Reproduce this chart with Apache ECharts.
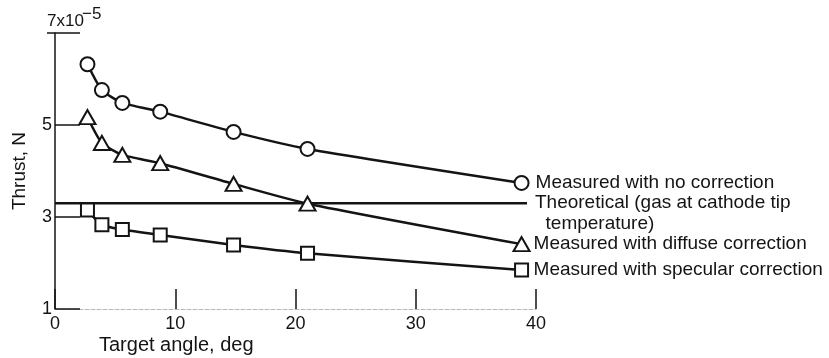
<!DOCTYPE html>
<html>
<head>
<meta charset="utf-8">
<script src="https://cdn.jsdelivr.net/npm/echarts@6/dist/echarts.min.js"></script>
<style>
  html, body { margin: 0; padding: 0; background: #fff; }
  #chart { width: 829px; height: 358px; }
</style>
</head>
<body>
<div id="chart"></div>
<script>
// Target angle, deg
const angles = [2.7, 3.9, 5.6, 8.75, 14.85, 21.0, 38.8];
// Thrust (x10^-5 N)
const noCorrection = [6.32, 5.76, 5.48, 5.29, 4.85, 4.48, 3.74];
const diffuseCorrection = [5.17, 4.61, 4.35, 4.17, 3.72, 3.29, 2.41];
const specularCorrection = [3.15, 2.83, 2.73, 2.61, 2.39, 2.21, 1.85];
const theoreticalX = [0, 39.25];
const theoreticalY = [3.30, 3.30];
const xTicks = [0, 10, 20, 30, 40];
const yTicks = [1, 3, 5, 7];

const FONT = "'Liberation Sans', Arial, sans-serif";
const INK = '#141414';

function pairs(xs, ys) { return xs.map((x, i) => [x, ys[i]]); }

const labelStyle = { fontFamily: FONT, fontSize: 19, color: INK };

function measured(name, ys, symbol, size, dist) {
  return {
    name: name,
    type: 'line',
    data: pairs(angles, ys),
    smooth: 0.2,
    symbol: symbol,
    symbolSize: size,
    showAllSymbol: true,
    lineStyle: { color: INK, width: 2.5 },
    itemStyle: { color: '#fff', borderColor: INK, borderWidth: 2 },
    z: 3,
    endLabel: Object.assign({ show: true, formatter: name, distance: dist }, labelStyle),
    emphasis: { disabled: true },
    animation: false
  };
}

const chart = echarts.init(document.getElementById('chart'), null, { renderer: 'canvas' });

const option = {
  animation: false,
  backgroundColor: '#fff',
  grid: { left: 55, top: 33, right: 293, bottom: 49, containLabel: false },
  xAxis: {
    type: 'value',
    min: xTicks[0],
    max: xTicks[xTicks.length - 1],
    interval: 10,
    axisLine: { show: true, lineStyle: { color: '#b8b8b8', width: 1, type: 'dashed' } },
    axisTick: { show: true, inside: true, length: 20, lineStyle: { color: INK, width: 1.5 } },
    axisLabel: { show: true, margin: 6, fontFamily: FONT, fontSize: 18, color: INK },
    splitLine: { show: false }
  },
  yAxis: {
    type: 'value',
    min: yTicks[0],
    max: yTicks[yTicks.length - 1],
    interval: 2,
    axisLine: { show: true, lineStyle: { color: INK, width: 1.5 } },
    axisTick: { show: true, inside: true, length: 25, lineStyle: { color: INK, width: 1.5 } },
    axisLabel: {
      show: true, margin: 3, fontFamily: FONT, fontSize: 18, color: INK,
      formatter: v => (v === 7 ? '' : String(v))
    },
    splitLine: { show: false }
  },
  series: [
    measured('Measured with no correction', noCorrection, 'circle', 14, 14),
    {
      name: 'Theoretical',
      type: 'line',
      data: pairs(theoreticalX, theoreticalY),
      symbol: 'none',
      lineStyle: { color: INK, width: 2.5 },
      z: 2,
      endLabel: Object.assign({
        show: true,
        distance: 8,
        offset: [0, 10],
        lineHeight: 21,
        formatter: 'Theoretical (gas at cathode tip\n\u00a0\u00a0temperature)'
      }, labelStyle),
      emphasis: { disabled: true },
      animation: false
    },
    measured('Measured with diffuse correction', diffuseCorrection, 'triangle', [16, 14], 12),
    measured('Measured with specular correction', specularCorrection, 'rect', 13, 12)
  ]
};

chart.setOption(option);

// Axis titles and the top tick label (7x10^-5), placed from the axis scale
const pTop = chart.convertToPixel({ gridIndex: 0 }, [0, 7]);
const pBottom = chart.convertToPixel({ gridIndex: 0 }, [0, 1]);
const pTen = chart.convertToPixel({ gridIndex: 0 }, [10, 1]);
chart.setOption({
  graphic: [
    {
      type: 'text', x: pTop[0] - 8, y: pTop[1] - 3,
      style: { text: '7x10', fontFamily: FONT, fontSize: 17, fill: INK, textAlign: 'left', textVerticalAlign: 'bottom' }
    },
    {
      type: 'text', x: pTop[0] + 27, y: pTop[1] - 10,
      style: { text: '\u22125', fontFamily: FONT, fontSize: 17, fill: INK, textAlign: 'left', textVerticalAlign: 'bottom' }
    },
    {
      type: 'line', shape: { x1: pTop[0] - 8, y1: pTop[1], x2: pTop[0], y2: pTop[1] },
      style: { stroke: INK, lineWidth: 1.5 }
    },
    {
      type: 'text', x: 19.5, y: (pTop[1] + pBottom[1]) / 2, rotation: Math.PI / 2,
      style: { text: 'Thrust, N', fontFamily: FONT, fontSize: 19, fill: INK, textAlign: 'center', textVerticalAlign: 'middle' }
    },
    {
      type: 'text', x: pTen[0] + 1, y: pBottom[1] + 36,
      style: { text: 'Target angle, deg', fontFamily: FONT, fontSize: 20, fill: INK, textAlign: 'center', textVerticalAlign: 'middle' }
    }
  ]
});
</script>
</body>
</html>
